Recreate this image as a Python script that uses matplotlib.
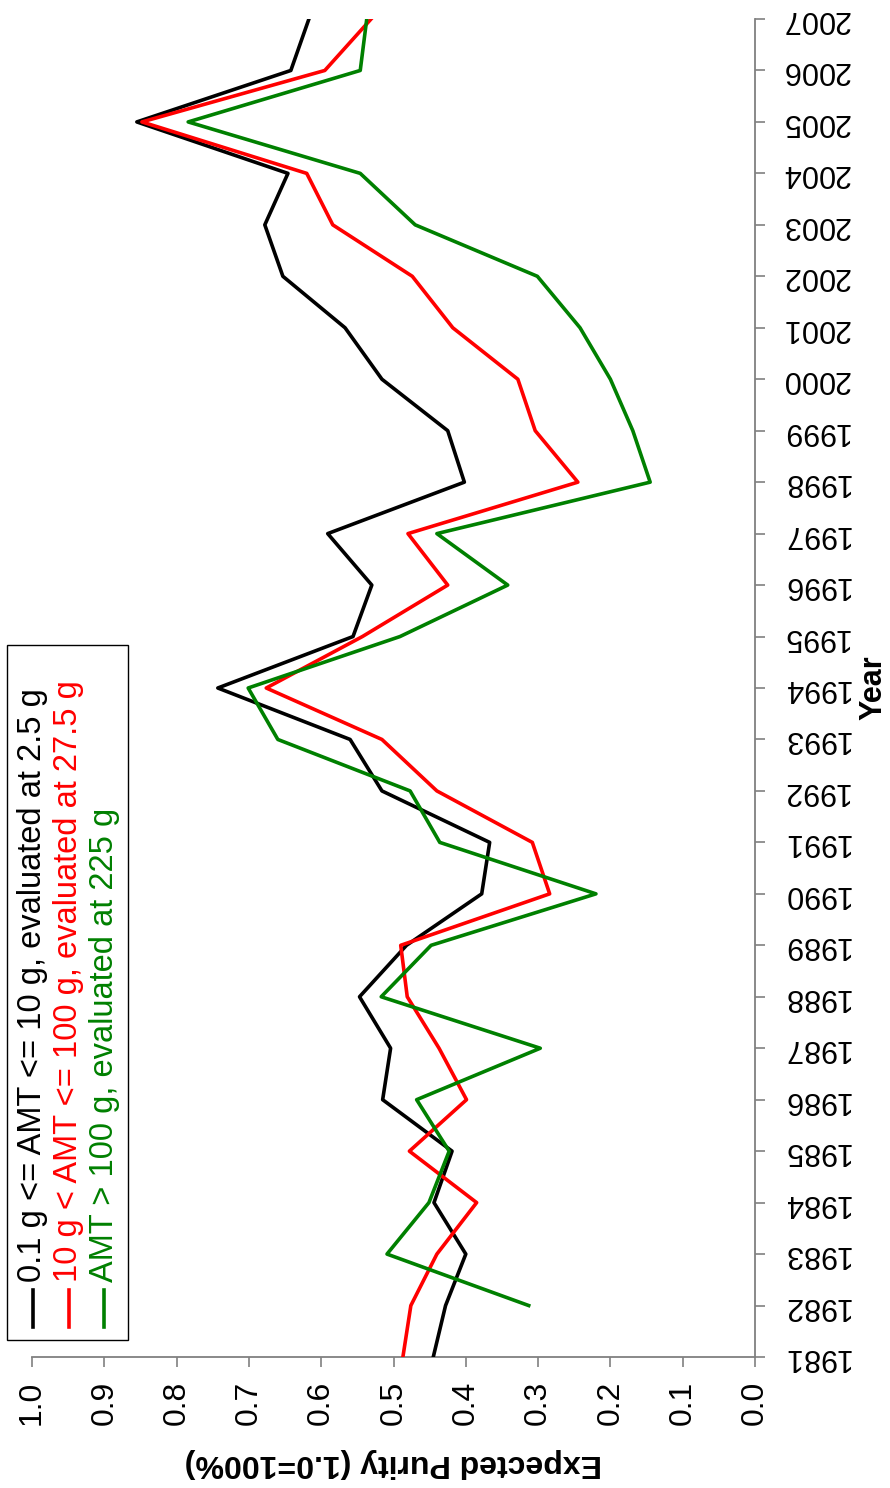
import matplotlib
matplotlib.use("Agg")
import matplotlib.pyplot as plt
from matplotlib.lines import Line2D
from matplotlib.patches import Rectangle

plt.rcParams['font.family'] = ['Liberation Sans', 'DejaVu Sans']

years = list(range(1981, 2008))
small = [0.445, 0.428, 0.400, 0.444, 0.419, 0.515, 0.504, 0.547, 0.482, 0.378,
         0.367, 0.516, 0.560, 0.743, 0.556, 0.530, 0.591, 0.402, 0.425, 0.516,
         0.567, 0.653, 0.678, 0.646, 0.855, 0.642, 0.617]
medium = [0.487, 0.476, 0.440, 0.385, 0.478, 0.399, 0.437, 0.481, 0.490, 0.284,
          0.308, 0.440, 0.516, 0.676, 0.543, 0.425, 0.480, 0.245, 0.304, 0.328,
          0.418, 0.474, 0.584, 0.620, 0.848, 0.595, 0.531]
large_years = list(range(1982, 2008))
large = [0.313, 0.509, 0.451, 0.423, 0.468, 0.297, 0.517, 0.448, 0.220,
         0.436, 0.477, 0.660, 0.701, 0.491, 0.342, 0.440, 0.145, 0.169, 0.200,
         0.242, 0.301, 0.470, 0.546, 0.784, 0.546, 0.537]

labels = ['0.1 g <= AMT <= 10 g, evaluated at 2.5 g',
          '10 g < AMT <= 100 g, evaluated at 27.5 g',
          'AMT > 100 g, evaluated at 225 g']
colors = ['#000000', '#ff0000', '#008000']
purity_ticks = [0.0, 0.1, 0.2, 0.3, 0.4, 0.5, 0.6, 0.7, 0.8, 0.9, 1.0]

W, H = 890, 1488
fig = plt.figure(figsize=(W / 100, H / 100), dpi=100)
ax = fig.add_axes([32 / W, 1 - 1357 / H, (755 - 32) / W, (1357 - 19) / H])

# chart is drawn turned a quarter turn: purity runs right-to-left, years bottom-to-top
ax.plot(small, years, color=colors[0], lw=2.6, zorder=3)
ax.plot(medium, years, color=colors[1], lw=2.6, zorder=3)
ax.plot(large, large_years, color=colors[2], lw=2.6, zorder=3)

ax.set_xlim(1.0, 0.0)
ax.set_ylim(1981, 2007)
ax.set_xticks(purity_ticks)
ax.set_xticklabels(['%.1f' % t for t in purity_ticks])
ax.set_yticks(years)
ax.set_yticklabels([str(y) for y in years])
ax.yaxis.tick_right()

for s in ['left', 'top']:
    ax.spines[s].set_visible(False)
for s in ['right', 'bottom']:
    ax.spines[s].set_color('#808080')
    ax.spines[s].set_linewidth(1.3)

ax.tick_params(axis='both', direction='out', length=7, width=1.2, color='#808080')
ax.tick_params(axis='x', labelrotation=90, pad=10, labelsize=23)
ax.tick_params(axis='y', labelrotation=180, pad=12, labelsize=22)
for lab in ax.get_yticklabels():
    lab.set_va('center')

ax.set_xlabel('Expected Purity (1.0=100%)', rotation=180, fontweight='bold',
              fontsize=23, ha='center', va='center')
ax.xaxis.set_label_coords(0.5, -0.079)
ax.yaxis.set_label_position('right')
ax.set_ylabel('Year', rotation=90, fontweight='bold', fontsize=22,
              ha='center', va='center')
ax.yaxis.set_label_coords(1.164, 0.5)

# legend, drawn by hand because it is rotated too
def fx(px):
    return px / W

def fy(py):
    return 1 - py / H

box = Rectangle((fx(7), fy(1340)), fx(128) - fx(7), fy(645) - fy(1340),
                transform=fig.transFigure, facecolor='white', edgecolor='black',
                lw=1.0, zorder=5)
fig.add_artist(box)
for i, (lab, c) in enumerate(zip(labels, colors)):
    xc = 33 + i * 35.5
    fig.add_artist(Line2D([fx(xc), fx(xc)], [fy(1327), fy(1290)],
                          transform=fig.transFigure, color=c, lw=2.6, zorder=6))
    fig.text(fx(xc), fy(1282), lab, color=c, fontsize=23.5, rotation=90,
             rotation_mode='anchor', ha='left', va='center', zorder=6)

fig.savefig('out.png', dpi=100)
